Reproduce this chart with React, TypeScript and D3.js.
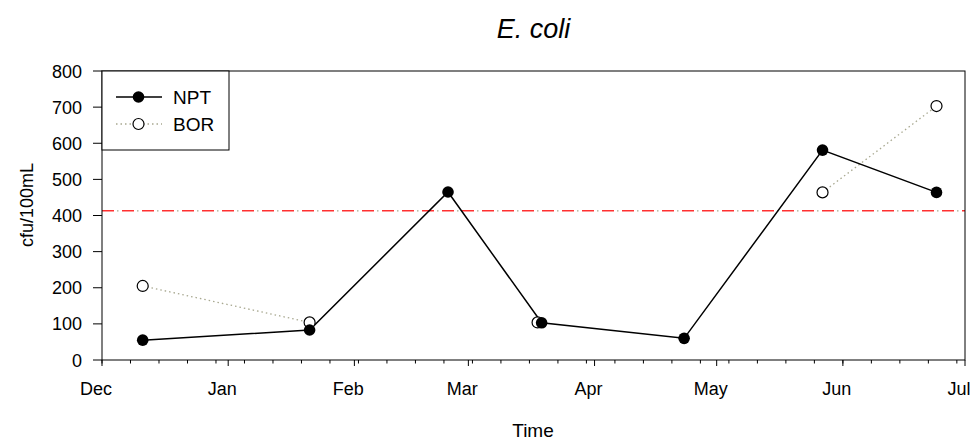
import React from "react";
import * as d3 from "d3";

const nptDates = ["2010-12-11", "2011-01-21", "2011-02-24", "2011-03-19", "2011-04-23", "2011-05-27", "2011-06-24"];
const nptValues = [55, 83, 465, 103, 60, 581, 464];
const borDates = ["2010-12-11", "2011-01-21", "2011-02-24", "2011-03-18", "2011-04-23", "2011-05-27", "2011-06-24"];
const borValues: (number | null)[] = [205, 104, null, 104, null, 464, 703];
const yTicks = [0, 100, 200, 300, 400, 500, 600, 700, 800];
const monthLabels = ["Dec", "Jan", "Feb", "Mar", "Apr", "May", "Jun", "Jul"];
const threshold = 413;
const domainStart = "2010-12-01";
const domainEnd = "2011-07-01";

const parse = d3.timeParse("%Y-%m-%d");
const FONT = "'Liberation Sans', Arial, sans-serif";

export default function App() {
  const W = 971, H = 446;
  const left = 102, right = 965, top = 71, bottom = 360;
  const x = d3.scaleTime().domain([parse(domainStart)!, parse(domainEnd)!]).range([left, right]);
  const y = d3.scaleLinear().domain([0, 800]).range([bottom, top]);

  const months = d3.timeMonth.range(parse(domainStart)!, d3.timeDay.offset(parse(domainEnd)!, 1));
  const minor: Date[] = [];
  for (let d = parse(domainStart)!; d <= parse(domainEnd)!; d = d3.timeDay.offset(d, 7)) minor.push(d);

  const npt = nptDates.map((d, i) => ({ x: parse(d)!, v: nptValues[i] as number | null }));
  const bor = borDates.map((d, i) => ({ x: parse(d)!, v: borValues[i] }));
  const line = d3.line<{ x: Date; v: number | null }>()
    .defined(d => d.v !== null)
    .x(d => x(d.x))
    .y(d => y(d.v as number));

  const ty = y(threshold);

  return (
    <svg width={W} height={H} style={{ position: "absolute", left: 0, top: 0, background: "#fff" }} fontFamily={FONT}>
      <rect x={0} y={0} width={W} height={H} fill="#fff" />
      <text x={(left + right) / 2} y={38} textAnchor="middle" fontSize={27} fontStyle="italic">E. coli</text>

      {/* threshold */}
      <line x1={left} x2={right} y1={ty} y2={ty} stroke="#ff3030" strokeWidth={1.5} strokeDasharray="12 8" />
      <line x1={left + 15} x2={right} y1={ty} y2={ty} stroke="#a8a890" strokeWidth={1.3} strokeDasharray="1.5 18.5" />

      {/* frame */}
      <rect x={left} y={top} width={right - left} height={bottom - top} fill="none" stroke="#000" strokeWidth={1} />

      {/* x ticks */}
      {minor.map((d, i) => (
        <line key={"mi" + i} x1={x(d)} x2={x(d)} y1={bottom} y2={bottom + 3.5} stroke="#000" strokeWidth={1} />
      ))}
      {months.map((d, i) => (
        <g key={"ma" + i}>
          <line x1={x(d)} x2={x(d)} y1={bottom} y2={bottom + 6} stroke="#000" strokeWidth={1} />
          <text x={x(d) - 6} y={395} textAnchor="middle" fontSize={18}>{monthLabels[i]}</text>
        </g>
      ))}

      {/* y ticks */}
      {yTicks.map(t => (
        <g key={"y" + t}>
          <line x1={left - 9} x2={left} y1={y(t)} y2={y(t)} stroke="#000" strokeWidth={1} />
          <text x={82} y={y(t) + 6.5} textAnchor="end" fontSize={18}>{t}</text>
        </g>
      ))}

      <text x={533} y={437} textAnchor="middle" fontSize={19}>Time</text>
      <text transform={`translate(33, 205) rotate(-90)`} textAnchor="middle" fontSize={18}>cfu/100mL</text>

      {/* series */}
      <path d={line(bor) || ""} fill="none" stroke="#a8a890" strokeWidth={1.3} strokeDasharray="1.5 3" />
      <path d={line(npt) || ""} fill="none" stroke="#000" strokeWidth={1.5} />
      {bor.filter(d => d.v !== null).map((d, i) => (
        <circle key={"b" + i} cx={x(d.x)} cy={y(d.v as number)} r={5.5} fill="#fff" stroke="#000" strokeWidth={1.2} />
      ))}
      {npt.map((d, i) => (
        <circle key={"n" + i} cx={x(d.x)} cy={y(d.v as number)} r={5.8} fill="#000" />
      ))}

      {/* legend */}
      <rect x={left} y={top} width={127} height={79} fill="#fff" stroke="#000" strokeWidth={1} />
      <line x1={116} x2={162} y1={97} y2={97} stroke="#000" strokeWidth={1.5} />
      <circle cx={138.5} cy={97} r={5.8} fill="#000" />
      <text x={173} y={104} fontSize={19}>NPT</text>
      <line x1={116} x2={162} y1={124} y2={124} stroke="#a8a890" strokeWidth={1.3} strokeDasharray="1.5 3" />
      <circle cx={138.5} cy={124} r={5.5} fill="#fff" stroke="#000" strokeWidth={1.2} />
      <text x={173} y={131} fontSize={19}>BOR</text>
    </svg>
  );
}
